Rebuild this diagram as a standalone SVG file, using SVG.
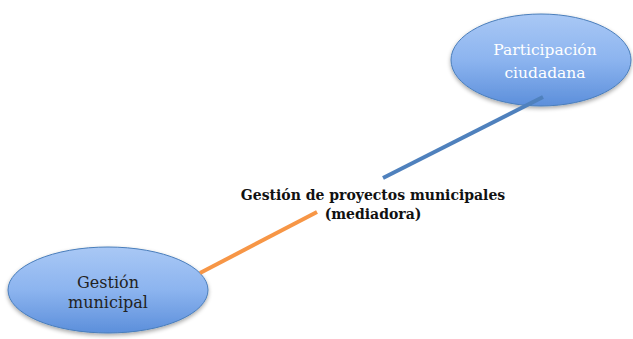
<svg xmlns="http://www.w3.org/2000/svg" width="633" height="339" viewBox="0 0 633 339">
<defs>
<linearGradient id="g" x1="0" y1="0" x2="0" y2="1">
<stop offset="0" stop-color="#a9c8f5"/>
<stop offset="0.5" stop-color="#8cb4ef"/>
<stop offset="1" stop-color="#5c8fdb"/>
</linearGradient>
<filter id="sh" x="-10%" y="-10%" width="125%" height="130%">
<feGaussianBlur in="SourceAlpha" stdDeviation="2"/>
<feOffset dx="0" dy="2" result="b"/>
<feComponentTransfer><feFuncA type="linear" slope="0.35"/></feComponentTransfer>
<feMerge><feMergeNode/><feMergeNode in="SourceGraphic"/></feMerge>
</filter>
</defs>
<style>
.node{fill:url(#g);stroke:#4a7ebb;stroke-width:1;filter:url(#sh)}
text{font-family:'DejaVu Serif',serif;text-anchor:middle}
.w{fill:#ffffff;font-size:15.5px}
.b{fill:#222222;font-size:16px}
.m{font-weight:bold;fill:#111111;font-size:14px}
</style>
<rect width="633" height="339" fill="#ffffff"/>
<g id="participacion">
<ellipse class="node" cx="541" cy="60" rx="90" ry="46"/>
<text class="w" x="545" y="55">Participación</text>
<text class="w" x="545" y="78">ciudadana</text>
</g>
<g id="gestion-municipal">
<ellipse class="node" cx="108" cy="290" rx="100" ry="43"/>
<text class="b" x="108" y="288">Gestión</text>
<text class="b" x="108" y="308">municipal</text>
</g>
<g id="mediadora">
<text class="m" x="373" y="200">Gestión de proyectos municipales</text>
<text class="m" x="373" y="219">(mediadora)</text>
</g>
<g id="connectors">
<line x1="383" y1="178" x2="543" y2="97" stroke="#4f81bd" stroke-width="4"/>
<line x1="317" y1="212" x2="200" y2="273" stroke="#f79646" stroke-width="4"/>
</g>
</svg>
